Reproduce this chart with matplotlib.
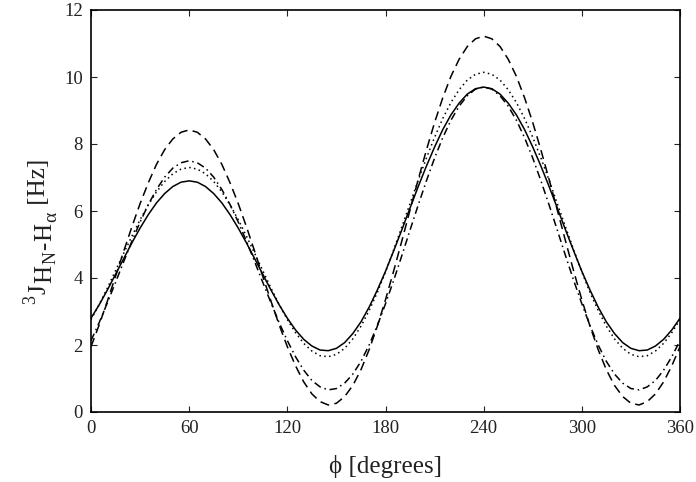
import matplotlib
matplotlib.use("Agg")
import matplotlib.pyplot as plt

plt.rcParams['font.family'] = ['Liberation Serif', 'DejaVu Serif']
plt.rcParams['mathtext.fontset'] = 'stix'

phi = list(range(0, 361, 5))

j_solid = [2.80, 3.20, 3.64, 4.11, 4.58, 5.05, 5.49, 5.89, 6.24, 6.52, 6.73, 6.86, 6.90,
           6.86, 6.73, 6.52, 6.24, 5.89, 5.49, 5.05, 4.58, 4.11, 3.64, 3.20, 2.80,
           2.45, 2.17, 1.97, 1.85, 1.83, 1.90,
           2.07, 2.34, 2.69, 3.13, 3.64, 4.20,
           4.81, 5.44, 6.09, 6.73, 7.34, 7.91,
           8.43, 8.87, 9.22, 9.49, 9.65, 9.70,
           9.65, 9.49, 9.22, 8.87, 8.43, 7.91,
           7.34, 6.73, 6.09, 5.44, 4.81, 4.20,
           3.64, 3.13, 2.69, 2.34, 2.07, 1.90,
           1.83, 1.85, 1.97, 2.17, 2.45, 2.80]

j_dotted = [2.76, 3.21, 3.70, 4.22, 4.74, 5.25, 5.74, 6.18, 6.57, 6.88, 7.11, 7.25, 7.30,
            7.25, 7.11, 6.88, 6.57, 6.18, 5.74, 5.25, 4.74, 4.22, 3.70, 3.21, 2.76,
            2.37, 2.05, 1.82, 1.68, 1.65, 1.72,
            1.90, 2.18, 2.56, 3.03, 3.57, 4.18,
            4.84, 5.53, 6.22, 6.92, 7.58, 8.20,
            8.76, 9.24, 9.62, 9.91, 10.08, 10.14,
            10.08, 9.91, 9.62, 9.24, 8.76, 8.20,
            7.58, 6.92, 6.22, 5.53, 4.84, 4.18,
            3.57, 3.03, 2.56, 2.18, 1.90, 1.72,
            1.65, 1.68, 1.82, 2.05, 2.37, 2.76]

j_dashdot = [2.13, 2.67, 3.26, 3.87, 4.49, 5.10, 5.67, 6.19, 6.64, 7.01, 7.28, 7.44, 7.50,
             7.44, 7.28, 7.01, 6.64, 6.19, 5.67, 5.10, 4.49, 3.87, 3.26, 2.67, 2.13,
             1.65, 1.25, 0.94, 0.75, 0.66, 0.70,
             0.86, 1.13, 1.51, 2.00, 2.58, 3.23,
             3.93, 4.67, 5.43, 6.18, 6.90, 7.58,
             8.19, 8.71, 9.13, 9.44, 9.64, 9.70,
             9.64, 9.44, 9.13, 8.71, 8.19, 7.58,
             6.90, 6.18, 5.43, 4.67, 3.93, 3.23,
             2.58, 2.00, 1.51, 1.13, 0.86, 0.70,
             0.66, 0.75, 0.94, 1.25, 1.65, 2.13]

j_dashed = [1.95, 2.60, 3.31, 4.05, 4.80, 5.53, 6.22, 6.84, 7.39, 7.83, 8.15, 8.35, 8.42,
            8.35, 8.15, 7.83, 7.39, 6.84, 6.22, 5.53, 4.80, 4.05, 3.31, 2.60, 1.95,
            1.38, 0.90, 0.54, 0.31, 0.21, 0.26,
            0.46, 0.79, 1.26, 1.86, 2.56, 3.35,
            4.21, 5.11, 6.03, 6.94, 7.82, 8.64,
            9.38, 10.02, 10.53, 10.91, 11.14, 11.22,
            11.14, 10.91, 10.53, 10.02, 9.38, 8.64,
            7.82, 6.94, 6.03, 5.11, 4.21, 3.35,
            2.56, 1.86, 1.26, 0.79, 0.46, 0.26,
            0.21, 0.31, 0.54, 0.90, 1.38, 1.95]

x_ticks = [0, 60, 120, 180, 240, 300, 360]
y_ticks = [0, 2, 4, 6, 8, 10, 12]

W, H = 696, 482
fig = plt.figure(figsize=(W / 100, H / 100), dpi=100)
ax = fig.add_axes([91 / W, 70 / H, 589 / W, 402 / H])

lw = 1.1
ax.plot(phi, j_dashed, color='black', lw=lw, linestyle=(0, (6, 3.5)))
ax.plot(phi, j_dashdot, color='black', lw=lw, linestyle=(0, (5, 2.5, 1, 2.5)))
ax.plot(phi, j_dotted, color='black', lw=lw, linestyle=(0, (1, 2.2)))
ax.plot(phi, j_solid, color='black', lw=lw, linestyle='-')

ax.set_xlim(0, 360)
ax.set_ylim(0, 12)
ax.set_xticks(x_ticks)
ax.set_yticks(y_ticks)
ax.tick_params(direction='in', length=4, width=0.8, top=True, right=True,
               labelsize=13.5, colors='#222222', pad=6)
for s in ax.spines.values():
    s.set_linewidth(1.2)

ax.set_xlabel('\u03d5 [degrees]', fontsize=18, labelpad=13, color='#222222')

# y label built from pieces, read bottom-to-top
ylabel_parts = [('3', 13, -10), ('J', 18, 0), ('H', 18, 6), ('N', 13, 11),
                ('-', 18, 6), ('H', 18, 6), ('\u03b1', 14, 11), (' [Hz]', 18, 0)]
renderer = fig.canvas.get_renderer()
base_x = 45.0
y_pos = 178.0
for txt, fs, off in ylabel_parts:
    t = fig.text((base_x + off) / W, y_pos / H, txt, fontsize=fs, rotation=90,
                 rotation_mode='anchor', ha='left', va='baseline', color='#222222')
    bb = t.get_window_extent(renderer=renderer)
    y_pos += bb.height + 1.0

fig.savefig('out.png', dpi=100)
